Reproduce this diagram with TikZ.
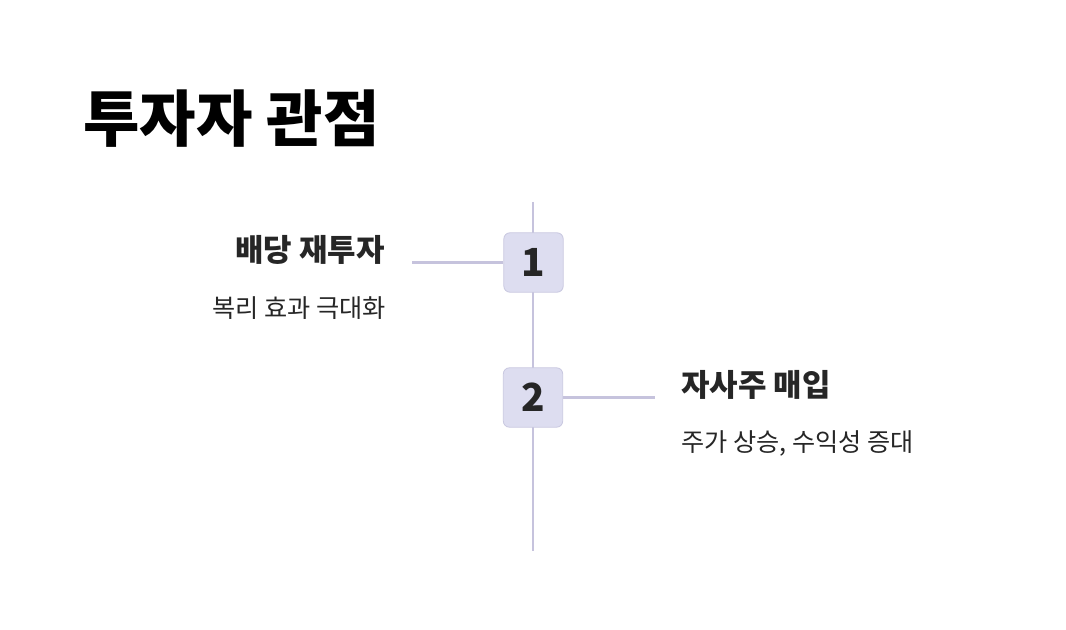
\documentclass[tikz,border=0pt]{standalone}
\usepackage{fontspec}
\setmainfont{Noto Sans CJK KR}
\usetikzlibrary{positioning}
\definecolor{axisline}{HTML}{C6C3DD}
\definecolor{stepfill}{HTML}{DDDDF0}
\definecolor{stepedge}{HTML}{C9C8E0}
\definecolor{inkdark}{HTML}{262626}

\tikzset{
  stepbox/.style={draw=stepedge, line width=0.6pt, fill=stepfill, rounded corners=4.5pt,
    minimum width=44.5pt, minimum height=44.5pt, inner sep=0pt,
    font=\fontsize{29}{31}\selectfont\bfseries, text=inkdark},
  connector/.style={draw=axisline, line width=1.9pt},
  headline/.style={font=\fontsize{23.2}{25}\selectfont\bfseries, text=inkdark, inner sep=0pt},
  subline/.style={font=\fontsize{18.9}{21}\selectfont, text=inkdark, inner sep=0pt},
}

\begin{document}
\begin{tikzpicture}[x=0.75pt,y=-0.75pt]

% page frame
\useasboundingbox[fill=white] (0,0) rectangle (1066,630);

% title
\node[anchor=west, inner sep=0pt, font=\fontsize{46}{49}\selectfont\bfseries] (title) at (83,119) {투자자 관점};

% timeline axis
\coordinate (axtop) at (533,202);
\coordinate (axbot) at (533,551);
\draw[connector] (axtop) -- (axbot);

% steps
\node[stepbox] (box1) at (533.5,262.5) {1};
\node[stepbox] (box2) at (533,397.5) {2};

% stubs
\coordinate (stub1) at (412,262.5);
\coordinate (stub2) at (655,397.5);
\draw[connector] (box1.west) -- (stub1);
\draw[connector] (box2.east) -- (stub2);

% left label
\node[headline, anchor=east] (head1) at (385,250) {배당 재투자};
\node[subline, anchor=east] (sub1) at (386,308) {복리 효과 극대화};

% right label
\node[headline, anchor=west] (head2) at (681,385) {자사주 매입};
\node[subline, anchor=west] (sub2) at (681,443) {주가 상승, 수익성 증대};

\end{tikzpicture}
\end{document}
